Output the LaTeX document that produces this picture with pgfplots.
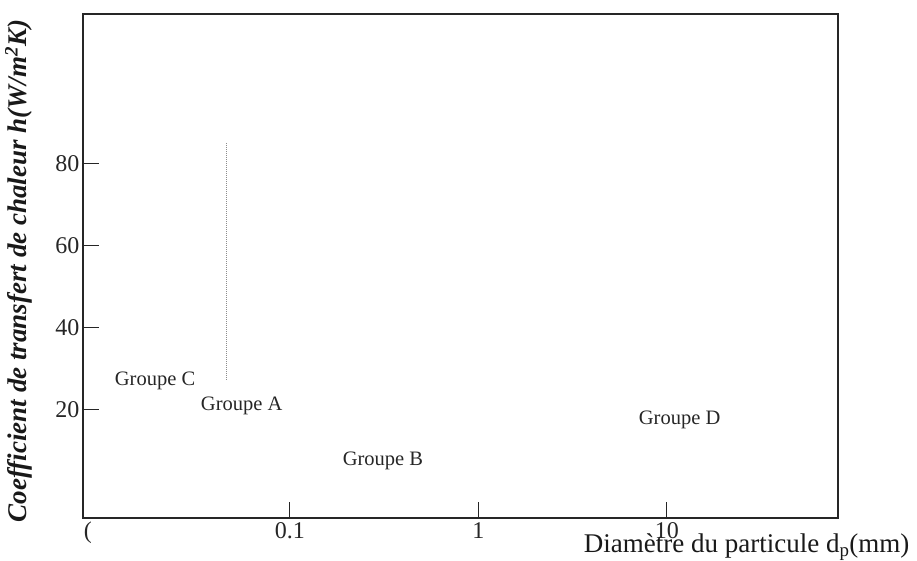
\documentclass[border=0pt]{standalone}
\usepackage{pgfplots}
\pgfplotsset{compat=1.18}
\usepackage{fontspec}
\setmainfont{Liberation Serif}
\begin{document}
\begin{tikzpicture}
\path[use as bounding box] (-83pt,-42pt) rectangle (834pt,518pt);
\begin{axis}[
  at={(0pt,0pt)}, anchor=south west,
  scale only axis, width=755pt, height=504pt,
  xmode=log, xmin=0.0080, xmax=81, ymin=-6.3, ymax=116.3,
  axis line style={line width=1.1pt, black!85},
  tick align=inside, major tick length=16pt,
  xtick={0.1,1,10}, xticklabels={0.1,1,10},
  ytick={20,40,60,80}, yticklabels={20,40,60,80},
  xtick pos=bottom, ytick pos=left,
  minor x tick num=0, minor tick style={draw=none},
  tick style={line width=0.9pt, black!85},
  ticklabel style={font=\fontsize{24}{24}\selectfont, text=black!85},
  xticklabel style={inner sep=1pt, yshift=-3pt},
  xlabel={Diamètre du particule d\textsubscript{p}(mm)},
  xlabel style={at={(axis description cs:1.0993,-0.068)}, anchor=base east, font=\fontsize{27}{27}\selectfont, text=black!90},
  ylabel={Coefficient de transfert de chaleur h(W/m\textsuperscript{2}K)},
  ylabel style={at={(axis description cs:-0.085,0.49)}, anchor=center, font=\fontsize{27}{27}\selectfont\bfseries\itshape, text=black!90},
  clip=false,
]
\addplot[black!45, densely dotted, line width=1pt] coordinates {(0.0463,27.3) (0.0463,84.9)};
\node[font=\fontsize{24}{24}\selectfont, text=black!85, anchor=north, inner sep=1pt, yshift=-3pt] at (axis cs:0.0085,-6.3) {(};
\node[font=\fontsize{20.5}{20.5}\selectfont, text=black!85] at (axis cs:0.0193,27.0) {Groupe C};
\node[font=\fontsize{20.5}{20.5}\selectfont, text=black!85] at (axis cs:0.0556,20.9) {Groupe A};
\node[font=\fontsize{20.5}{20.5}\selectfont, text=black!85] at (axis cs:0.312,7.5) {Groupe B};
\node[font=\fontsize{20.5}{20.5}\selectfont, text=black!85] at (axis cs:11.7,17.5) {Groupe D};
\end{axis}
\end{tikzpicture}
\end{document}
